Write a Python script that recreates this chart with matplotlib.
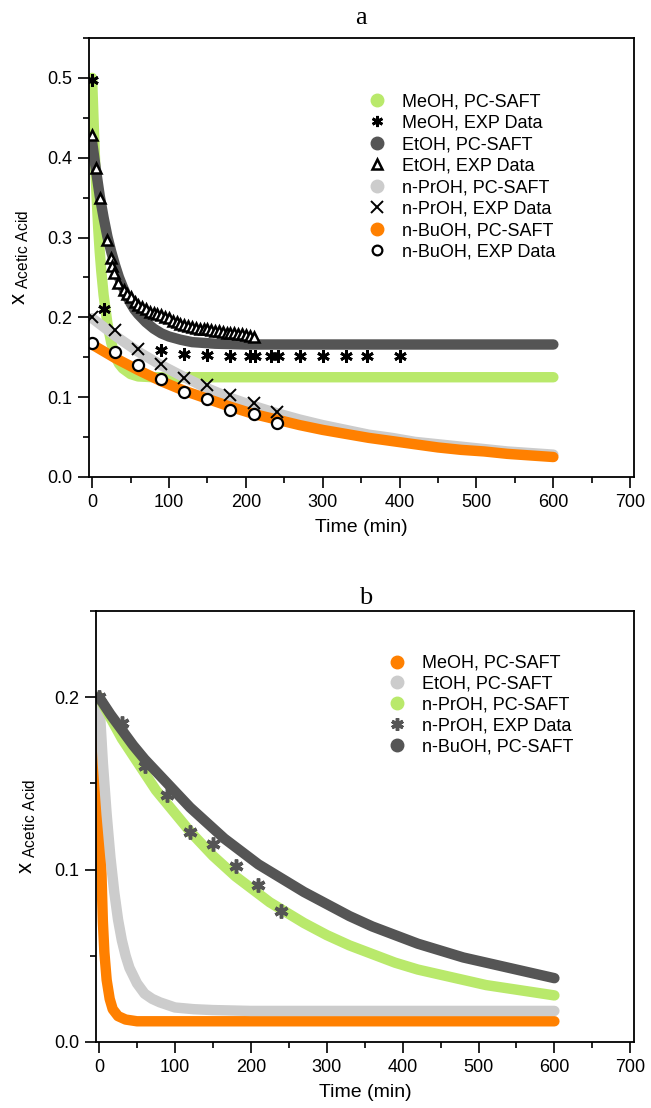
import numpy as np
import matplotlib
matplotlib.use('Agg')
import matplotlib.pyplot as plt
from matplotlib.lines import Line2D
from matplotlib.ticker import MultipleLocator, FormatStrFormatter

plt.rcParams['font.family'] = ['Liberation Sans', 'DejaVu Sans']
plt.rcParams['mathtext.default'] = 'regular'

# colours
green = '#b9e96b'
dark = '#555555'
light = '#cccccc'
orange = '#ff8000'

# ---------------- panel a data ----------------
t_meoh_a = [0, 2, 4, 6, 8, 10, 12, 15, 20, 25, 30, 35, 40, 50, 60, 80, 100, 150, 600]
x_meoh_a = [0.500, 0.445, 0.393, 0.350, 0.312, 0.282, 0.258, 0.228, 0.192, 0.168, 0.152, 0.142, 0.136, 0.129, 0.126, 0.125, 0.125, 0.125, 0.125]
t_etoh_a = [0, 5, 10, 15, 20, 25, 30, 35, 40, 45, 50, 55, 60, 70, 80, 90, 100, 115, 130, 145, 160, 180, 200, 250, 600]
x_etoh_a = [0.420, 0.385, 0.352, 0.325, 0.301, 0.282, 0.265, 0.250, 0.238, 0.227, 0.218, 0.210, 0.204, 0.194, 0.186, 0.180, 0.176, 0.172, 0.169, 0.168, 0.167, 0.1665, 0.166, 0.166, 0.166]
t_prop_a = [0, 30, 60, 90, 120, 150, 180, 210, 240, 270, 300, 330, 360, 390, 420, 450, 480, 510, 540, 570, 600]
x_prop_a = [0.199, 0.177, 0.157, 0.140, 0.125, 0.111, 0.099, 0.089, 0.080, 0.072, 0.065,
            0.059, 0.053, 0.049, 0.044, 0.041, 0.038, 0.035, 0.032, 0.030, 0.028]
t_buoh_a = [0, 30, 60, 90, 120, 150, 180, 210, 240, 270, 300, 330, 360, 390, 420, 450, 480, 510, 540, 570, 600]
x_buoh_a = [0.166, 0.149, 0.134, 0.120, 0.108, 0.098, 0.088, 0.079, 0.072, 0.065, 0.059,
            0.054, 0.049, 0.045, 0.041, 0.037, 0.034, 0.032, 0.029, 0.027, 0.025]

t_meoh_exp = [0, 15, 90, 120, 150, 180, 205, 212, 233, 242, 270, 300, 330, 357, 400]
x_meoh_exp = [0.497, 0.210, 0.159, 0.154, 0.153, 0.152, 0.152, 0.152, 0.152, 0.152, 0.152, 0.152, 0.152, 0.152, 0.152]
t_etoh_exp = [0, 5, 10, 20, 24, 26, 28, 34, 41, 45, 50, 56, 60, 65, 70, 75, 80, 85, 90, 95, 100, 105, 110, 115,
              120, 125, 130, 135, 140, 145, 150, 155, 160, 165, 170, 175, 180, 185, 190, 195, 200, 205, 210]
x_etoh_exp = [0.429, 0.387, 0.350, 0.297, 0.274, 0.264, 0.256, 0.243, 0.234, 0.229, 0.226, 0.219, 0.216, 0.213, 0.210,
              0.207, 0.206, 0.204, 0.203, 0.201, 0.199, 0.196, 0.194, 0.192, 0.190, 0.189, 0.188, 0.187, 0.186, 0.186,
              0.185, 0.184, 0.183, 0.183, 0.182, 0.181, 0.180, 0.180, 0.179, 0.179, 0.178, 0.177, 0.176]
t_prop_exp = [0, 30, 60, 90, 120, 150, 180, 210, 240]
x_prop_exp = [0.200, 0.184, 0.160, 0.141, 0.124, 0.115, 0.103, 0.093, 0.082]
t_buoh_exp = [0, 30, 60, 90, 120, 150, 180, 210, 240]
x_buoh_exp = [0.168, 0.156, 0.140, 0.123, 0.107, 0.098, 0.084, 0.079, 0.068]

# ---------------- panel b data ----------------
t_meoh_b = [0, 1, 2, 3, 5, 7, 10, 14, 18, 25, 35, 50, 100, 600]
x_meoh_b = [0.200, 0.150, 0.120, 0.100, 0.070, 0.052, 0.036, 0.025, 0.019, 0.015, 0.013, 0.012, 0.012, 0.012]
t_etoh_b = [0, 5, 10, 15, 20, 25, 30, 35, 40, 50, 60, 70, 80, 100, 125, 150, 200, 600]
x_etoh_b = [0.200, 0.162, 0.132, 0.107, 0.087, 0.071, 0.059, 0.050, 0.043, 0.034, 0.028, 0.025, 0.023, 0.020, 0.019, 0.0185, 0.018, 0.018]
t_prop_b = [0, 15, 30, 45, 60, 75, 90, 105, 120, 135, 150, 165, 180, 195, 210, 225, 240, 270, 300,
            330, 360, 390, 420, 450, 480, 510, 540, 570, 600]
x_prop_b = [0.200, 0.188, 0.176, 0.166, 0.156, 0.146, 0.138, 0.130, 0.122, 0.115, 0.108, 0.102, 0.096, 0.091, 0.086,
            0.081, 0.077, 0.069, 0.062, 0.056, 0.051, 0.046, 0.042, 0.039, 0.036, 0.033, 0.031, 0.029, 0.027]
t_buoh_b = [0, 15, 30, 45, 60, 75, 90, 105, 120, 135, 150, 165, 180, 195, 210, 225, 240, 270, 300,
            330, 360, 390, 420, 450, 480, 510, 540, 570, 600]
x_buoh_b = [0.200, 0.190, 0.181, 0.172, 0.164, 0.157, 0.150, 0.143, 0.136, 0.130, 0.124, 0.118, 0.113, 0.108, 0.103,
            0.099, 0.095, 0.087, 0.080, 0.073, 0.067, 0.062, 0.057, 0.053, 0.049, 0.046, 0.043, 0.040, 0.037]
t_prop_exp_b = [0, 30, 60, 90, 120, 150, 180, 210, 240]
x_prop_exp_b = [0.200, 0.185, 0.160, 0.143, 0.122, 0.115, 0.102, 0.091, 0.076]

fig = plt.figure(figsize=(6.51, 11.08), dpi=100)
ax1 = fig.add_axes([0.1367, 0.5695, 0.8373, 0.3962])
ax2 = fig.add_axes([0.1475, 0.0596, 0.8265, 0.3890])

lw = 7.5
kw = dict(lw=lw, solid_capstyle='round', solid_joinstyle='round')

# panel a
ax1.plot(t_meoh_a, x_meoh_a, color=green, **kw)
ax1.plot(t_etoh_a, x_etoh_a, color=dark, **kw)
ax1.plot(t_prop_a, x_prop_a, color=light, **kw)
ax1.plot(t_buoh_a, x_buoh_a, color=orange, **kw)
ax1.plot(t_meoh_exp, x_meoh_exp, ls='', marker=(6, 2, 0), ms=9, mew=2, color='k')
ax1.plot(t_etoh_exp, x_etoh_exp, ls='', marker='^', ms=7, mew=1.8, mfc='white', mec='k')
ax1.plot(t_prop_exp, x_prop_exp, ls='', marker='x', ms=8, mew=1.4, color='k')
ax1.plot(t_buoh_exp, x_buoh_exp, ls='', marker='o', ms=8, mew=1.6, mfc='white', mec='k')

h1 = [Line2D([], [], ls='', marker='o', ms=9, color=green),
      Line2D([], [], ls='', marker=(6, 2, 0), ms=8, mew=2, color='k'),
      Line2D([], [], ls='', marker='o', ms=9, color=dark),
      Line2D([], [], ls='', marker='^', ms=7, mew=1.8, mfc='white', mec='k'),
      Line2D([], [], ls='', marker='o', ms=9, color=light),
      Line2D([], [], ls='', marker='x', ms=8, mew=1.4, color='k'),
      Line2D([], [], ls='', marker='o', ms=9, color=orange),
      Line2D([], [], ls='', marker='o', ms=7, mew=1.6, mfc='white', mec='k')]
l1 = ['MeOH, PC-SAFT', 'MeOH, EXP Data', 'EtOH, PC-SAFT', 'EtOH, EXP Data',
      'n-PrOH, PC-SAFT', 'n-PrOH, EXP Data', 'n-BuOH, PC-SAFT', 'n-BuOH, EXP Data']
fig.legend(h1, l1, loc='upper left', bbox_to_anchor=(0.565, 0.916), frameon=False,
           fontsize=13, handlelength=1.0, handletextpad=0.9, labelspacing=0.25,
           borderpad=0, borderaxespad=0)

# panel b
ax2.plot(t_meoh_b, x_meoh_b, color=orange, **kw)
ax2.plot(t_etoh_b, x_etoh_b, color=light, **kw)
ax2.plot(t_prop_b, x_prop_b, color=green, **kw)
ax2.plot(t_prop_exp_b, x_prop_exp_b, ls='', marker=(6, 2, 0), ms=10, mew=2.5, color=dark)
ax2.plot(t_buoh_b, x_buoh_b, color=dark, **kw)

h2 = [Line2D([], [], ls='', marker='o', ms=9, color=orange),
      Line2D([], [], ls='', marker='o', ms=9, color=light),
      Line2D([], [], ls='', marker='o', ms=9, color=green),
      Line2D([], [], ls='', marker=(6, 2, 0), ms=9, mew=2.5, color=dark),
      Line2D([], [], ls='', marker='o', ms=9, color=dark)]
l2 = ['MeOH, PC-SAFT', 'EtOH, PC-SAFT', 'n-PrOH, PC-SAFT', 'n-PrOH, EXP Data', 'n-BuOH, PC-SAFT']
fig.legend(h2, l2, loc='upper left', bbox_to_anchor=(0.596, 0.409), frameon=False,
           fontsize=13, handlelength=1.0, handletextpad=0.9, labelspacing=0.22,
           borderpad=0, borderaxespad=0)

for ax, ymax in [(ax1, 0.55), (ax2, 0.25)]:
    ax.set_xlim(-4, 705)
    ax.set_ylim(0, ymax)
    ax.xaxis.set_major_locator(MultipleLocator(100))
    ax.xaxis.set_minor_locator(MultipleLocator(50))
    ax.yaxis.set_major_locator(MultipleLocator(0.1))
    ax.yaxis.set_minor_locator(MultipleLocator(0.05))
    ax.yaxis.set_major_formatter(FormatStrFormatter('%.1f'))
    ax.tick_params(which='major', direction='out', length=8, width=1.2, labelsize=13, pad=4)
    ax.tick_params(which='minor', direction='out', length=4, width=1.2)
    for s in ax.spines.values():
        s.set_linewidth(1.3)
    ax.set_xlabel('Time (min)', fontsize=14, labelpad=6)
    ax.set_ylabel(r'x$_{\ Acetic\ Acid}$', fontsize=16, labelpad=12)

fig.text(0.555, 1 - 18 / 1108, 'a', family='Liberation Serif', fontsize=19, ha='center', va='center')
fig.text(0.561, 1 - 598 / 1108, 'b', family='Liberation Serif', fontsize=19, ha='center', va='center')

fig.savefig('out.png', dpi=100)
